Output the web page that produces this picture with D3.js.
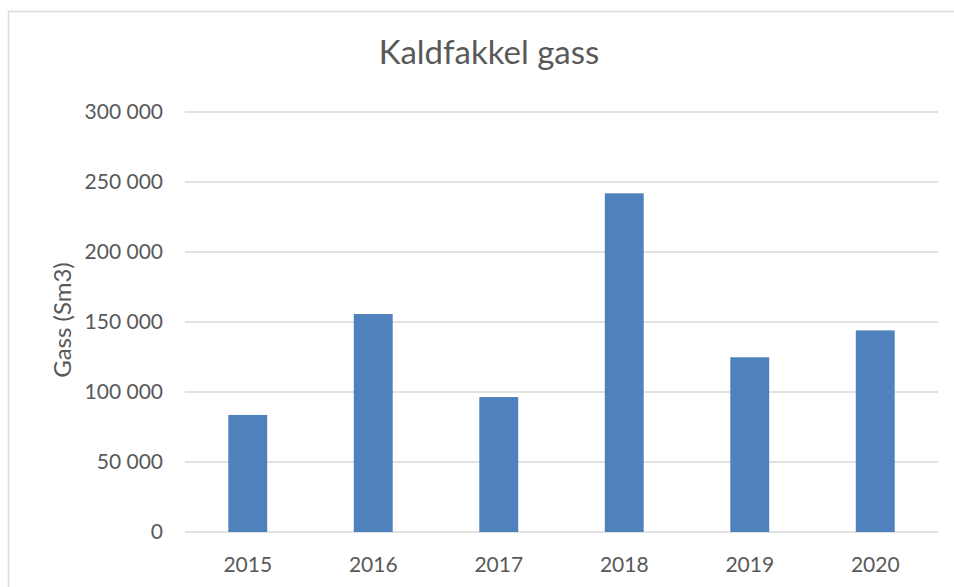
<!DOCTYPE html>
<meta charset="utf-8">
<script src="https://d3js.org/d3.v7.min.js"></script>
<style>
  body { margin: 0; background: #fff; }
  text { font-family: "Lato", "Liberation Sans", sans-serif; fill: #595959; }
</style>
<div id="chart"></div>
<script>
// data
const years = ["2015", "2016", "2017", "2018", "2019", "2020"]
const gas = [83600, 155700, 96400, 241900, 124800, 144000]
const yTicks = [0, 50000, 100000, 150000, 200000, 250000, 300000]

const W = 954, H = 587
const margin = {top: 112, right: 16, bottom: 55, left: 185}
const width = W - margin.left - margin.right
const height = H - margin.top - margin.bottom

const svg = d3.select("#chart")
              .append("svg")
              .attr("width", W)
              .attr("height", H)

// chart area frame
svg.append("rect")
    .attr("x", 8.5).attr("y", 11.5)
    .attr("width", W + 10).attr("height", H + 10)
    .attr("fill", "none")
    .attr("stroke", "#d9d9d9")
    .attr("stroke-width", 1.5)

svg.append("text")
    .attr("x", 489).attr("y", 64)
    .attr("text-anchor", "middle")
    .style("font-size", "33px")
    .text("Kaldfakkel gass")

const g = svg.append("g")
             .attr("transform", `translate(${margin.left}, ${margin.top})`)

const x = d3.scaleBand()
            .domain(years)
            .range([0, width])
            .paddingInner(0.69)
            .paddingOuter(0.345)

const y = d3.scaleLinear()
            .domain([0, 300000])
            .range([height, 0])

const fmt = d3.formatLocale({decimal: ",", thousands: " ", grouping: [3], currency: ["", ""]}).format(",d")

// gridlines
g.append("g")
    .selectAll("line")
    .data(yTicks)
    .join("line")
        .attr("x1", 0).attr("x2", width)
        .attr("y1", d => y(d)).attr("y2", d => y(d))
        .attr("stroke", "#d9d9d9")
        .attr("stroke-width", 1.5)

// y axis labels
const yAxis = g.append("g")
    .call(d3.axisLeft(y).tickValues(yTicks).tickFormat(fmt).tickSize(0).tickPadding(22))
yAxis.select(".domain").remove()
yAxis.selectAll("text").style("font-size", "21px").attr("fill", "#595959")

// bars
g.append("g")
    .selectAll("rect")
    .data(years)
    .join("rect")
        .attr("x", d => x(d))
        .attr("y", (d, i) => y(gas[i]))
        .attr("width", x.bandwidth())
        .attr("height", (d, i) => height - y(gas[i]))
        .attr("fill", "#4f81bd")

// x axis
const xAxis = g.append("g")
    .attr("transform", `translate(0, ${height})`)
    .call(d3.axisBottom(x).tickSize(0).tickPadding(25))
xAxis.select(".domain").remove()
xAxis.selectAll("text").style("font-size", "21px").attr("fill", "#595959")

svg.append("text")
    .attr("transform", `translate(71, 320) rotate(-90)`)
    .attr("text-anchor", "middle")
    .style("font-size", "24px")
    .text("Gass (Sm3)")
</script>
